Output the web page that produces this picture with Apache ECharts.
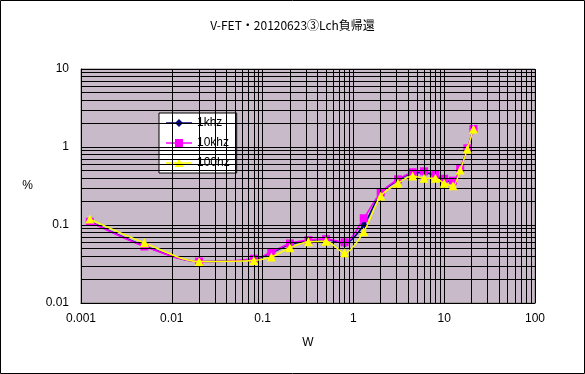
<!DOCTYPE html>
<html>
<head>
<meta charset="utf-8">
<script src="https://cdn.jsdelivr.net/npm/echarts@6/dist/echarts.min.js"></script>
<style>html,body{margin:0;padding:0;background:#fff}#c{width:585px;height:374px}</style>
</head>
<body>
<div id="c"></div>
<script>
// ---- data ----
var titleText = 'V-FET・20120623③Lch負帰還';
var xValues = [0.00125, 0.005, 0.02, 0.08, 0.125, 0.2, 0.32, 0.5, 0.8, 1.3, 2, 3.1, 4.5, 6, 8, 10, 12.5, 15, 18, 21];
var s1k   = [0.111, 0.054, 0.034, 0.036, 0.044, 0.056, 0.063, 0.065, 0.058, 0.100, 0.255, 0.375, 0.46, 0.47, 0.43, 0.38, 0.355, 0.52, 0.95, 1.70];
var s10k  = [0.110, 0.053, 0.034, 0.037, 0.045, 0.058, 0.064, 0.066, 0.060, 0.122, 0.262, 0.385, 0.474, 0.488, 0.442, 0.392, 0.370, 0.533, 0.962, 1.70];
var s100  = [0.119, 0.059, 0.034, 0.035, 0.039, 0.051, 0.061, 0.062, 0.044, 0.082, 0.236, 0.343, 0.425, 0.397, 0.397, 0.343, 0.319, 0.507, 0.94, 1.70];
var seriesNames = ['1khz', '10khz', '100hz'];
var xTickLabels = ['0.001', '0.01', '0.1', '1', '10', '100'];
var yTickLabels = ['0.01', '0.1', '1', '10'];
var xMin = 0.001, xMax = 100, yMin = 0.01, yMax = 10;

// ---- helpers ----
function pairs(xs, ys) { return xs.map(function (x, i) { return [x, ys[i]]; }); }
function logGrid(lo, hi) {
  var out = [];
  for (var d = lo; d < hi * 0.999; d *= 10) {
    for (var m = 1; m <= 9; m++) out.push(+(d * m).toPrecision(6));
  }
  out.push(hi);
  return out;
}
function labelFor(list) {
  return function (v) {
    for (var i = 0; i < list.length; i++) {
      if (Math.abs(Math.log10(v) - Math.log10(parseFloat(list[i]))) < 1e-6) return list[i];
    }
    return '';
  };
}

var gridLines = [];
logGrid(xMin, xMax).forEach(function (v) { gridLines.push({ xAxis: v }); });
logGrid(yMin, yMax).forEach(function (v) { gridLines.push({ yAxis: v }); });

// legend icons: line segment with marker in the middle (26 x 12 box)
var frame = 'M0,0 L0.01,0 L0.01,0.01 Z M26,12 L25.99,12 L25.99,11.99 Z ';
var strip = 'M0,5.25 L26,5.25 L26,6.75 L0,6.75 Z ';
var legendIcons = [
  'path://' + frame + strip + 'M13,2 L17,6 L13,10 L9,6 Z',
  'path://' + frame + strip + 'M9,2 L17,2 L17,10 L9,10 Z',
  'path://' + frame + strip + 'M13,1.5 L17.5,10 L8.5,10 Z'
];

var font = 'Liberation Sans, Arial, sans-serif';
var chart = echarts.init(document.getElementById('c'), null, { renderer: 'canvas' });
chart.setOption({
  animation: false,
  backgroundColor: '#ffffff',
  title: {
    text: titleText, left: 'center', top: 14,
    textStyle: { fontFamily: 'Noto Sans CJK JP, sans-serif', fontSize: 12, fontWeight: 'normal', color: '#000' }
  },
  graphic: [{
    type: 'rect', shape: { x: 0.5, y: 0.5, width: 584, height: 373 },
    style: { fill: 'none', stroke: '#000', lineWidth: 1 }, silent: true, z: 100
  }],
  grid: {
    left: 81, right: 50, top: 69, bottom: 71, show: true,
    backgroundColor: '#C8BAC8',
    borderColor: '#808080', borderWidth: 1
  },
  legend: {
    data: seriesNames.map(function (n, i) { return { name: n, icon: legendIcons[i] }; }),
    orient: 'vertical', left: 159, top: 113,
    backgroundColor: '#fff', borderColor: '#000', borderWidth: 1,
    padding: [4, 7, 4, 7], itemWidth: 26, itemHeight: 12, itemGap: 8,
    textStyle: { fontFamily: font, fontSize: 12, color: '#000' }
  },
  xAxis: {
    type: 'log', min: xMin, max: xMax, logBase: 10, splitNumber: 5,
    name: 'W', nameLocation: 'middle', nameGap: 34,
    nameTextStyle: { fontFamily: font, fontSize: 12, color: '#000' },
    axisLine: { show: true, lineStyle: { color: '#000', width: 1 } },
    axisTick: { show: false }, splitLine: { show: false }, minorTick: { show: false },
    axisLabel: { formatter: labelFor(xTickLabels), fontFamily: font, fontSize: 12, color: '#000', margin: 10 }
  },
  yAxis: {
    type: 'log', min: yMin, max: yMax, logBase: 10, splitNumber: 3,
    name: '%', nameLocation: 'middle', nameRotate: 0, nameGap: 48,
    nameTextStyle: { fontFamily: font, fontSize: 12, color: '#000' },
    axisLine: { show: true, lineStyle: { color: '#000', width: 1 } },
    axisTick: { show: false }, splitLine: { show: false }, minorTick: { show: false },
    axisLabel: { formatter: labelFor(yTickLabels), fontFamily: font, fontSize: 12, color: '#000', margin: 12 }
  },
  series: [
    {
      name: '_grid', type: 'line', data: [], silent: true, z: 1,
      markLine: {
        silent: true, symbol: ['none', 'none'], label: { show: false },
        lineStyle: { color: '#000', width: 1, type: 'solid' },
        emphasis: { disabled: true }, animation: false,
        data: gridLines
      }
    },
    {
      name: seriesNames[0], type: 'line', data: pairs(xValues, s1k), z: 3,
      smooth: 0.3, symbol: 'diamond', symbolSize: 8,
      lineStyle: { color: '#000080', width: 1.5 }, itemStyle: { color: '#000080' }
    },
    {
      name: seriesNames[1], type: 'line', data: pairs(xValues, s10k), z: 4,
      smooth: 0.3, symbol: 'rect', symbolSize: 8,
      lineStyle: { color: '#FF00FF', width: 1.5 }, itemStyle: { color: '#FF00FF' }
    },
    {
      name: seriesNames[2], type: 'line', data: pairs(xValues, s100), z: 5,
      smooth: 0.3, symbol: 'triangle', symbolSize: 9,
      lineStyle: { color: '#FFFF00', width: 1.5 }, itemStyle: { color: '#FFFF00' }
    }
  ]
});
</script>
</body>
</html>
